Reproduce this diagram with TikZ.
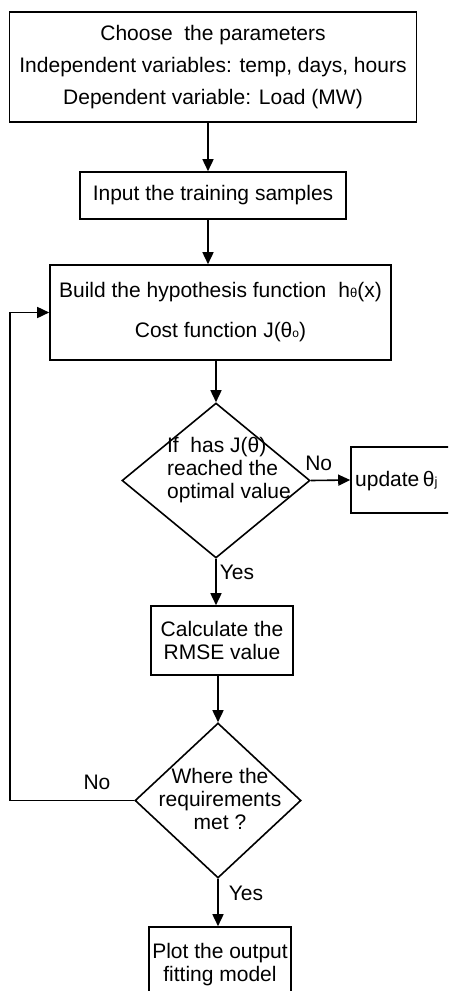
\documentclass[tikz,border=0pt]{standalone}
\usepackage{fontspec}
\setmainfont{Liberation Sans}
\usetikzlibrary{arrows.meta,shapes.geometric}
\begin{document}
\begin{tikzpicture}[x=1pt,y=-1pt,
  every node/.style={font=\fontsize{21}{23}\selectfont},
  procbox/.style={draw,line width=1.6pt,rectangle,inner sep=0pt},
  decision/.style={draw,line width=1.6pt,diamond,inner sep=0pt},
  arr/.style={line width=1.6pt,-{Triangle[length=12pt,width=11pt]}},
  lbl/.style={inner sep=0pt}]
\useasboundingbox (0,0) rectangle (448,991);
\clip (0,0) rectangle (448,991);
\node[procbox,minimum width=407pt,minimum height=110pt,align=center] (b1) at (213,67)
  {Choose~ the parameters\\[9pt]Independent variables: temp, days, hours\\[9pt]Dependent variable: Load (MW)};
\node[procbox,minimum width=266pt,minimum height=47pt] (b2) at (213,195.5) {Input the training samples};
\node[procbox,minimum width=341pt,minimum height=95pt,align=center] (b3) at (220.5,312.5)
  {Build the hypothesis function\hspace{12pt}h{\fontsize{13}{13}\selectfont θ}(x)\\[17pt]Cost function J(θ{\fontsize{12}{12}\selectfont o})};
\node[decision,minimum width=188pt,minimum height=155pt] (d1) at (216,480.5) {};
\node[lbl,align=left] (d1t) at (229,470.5) {If~ has J(θ)\\reached the\\optimal value};
\node[procbox,minimum width=109pt,minimum height=66pt] (ub) at (405.5,480) {};
\node[lbl,anchor=west] (ubt) at (355,481) {update\,θ{\fontsize{13}{13}\selectfont j}};
\node[procbox,minimum width=142pt,minimum height=69pt,align=center] (b4) at (222,640.5) {Calculate the\\RMSE value};
\node[decision,minimum width=166pt,minimum height=155pt] (d2) at (218,800.5) {};
\node[lbl,align=center] (d2t) at (220,799) {Where the\\requirements\\met ?};
\node[procbox,minimum width=142pt,minimum height=76pt,align=center] (b5) at (220,965) {Plot the output\\fitting model};
\coordinate (lx) at (10,0);
\coordinate (ax) at (208,0);
\draw[arr] (b1.south -| ax) -- (b2.north -| ax);
\draw[arr] (b2.south -| ax) -- (b3.north -| ax);
\draw[arr] (d1.north |- b3.south) -- (d1.north);
\draw[arr] (d1.east) -- (ub.west) node[lbl,pos=0.2,above=9pt] {No};
\draw[arr] (d1.south) -- (d1.south |- b4.north) node[lbl,pos=0.3,right=3pt] {Yes};
\draw[arr] (d2.north |- b4.south) -- (d2.north);
\draw[arr] (d2.south) -- (d2.south |- b5.north) node[lbl,pos=0.3,right=10pt] {Yes};
\draw[arr] (d2.west) -- (d2.west -| lx) |- (b3.west);
\node[lbl] (no2) at (97,782) {No};
\end{tikzpicture}
\end{document}
